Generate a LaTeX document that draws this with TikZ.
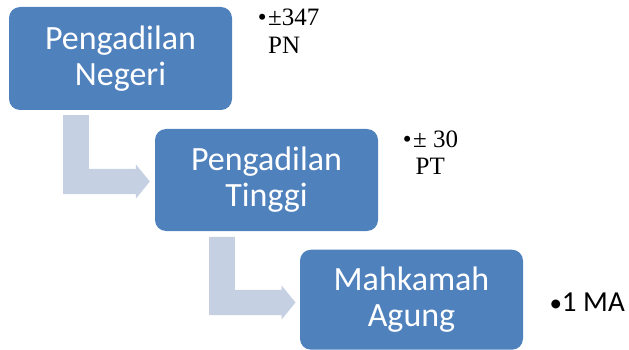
\documentclass[tikz,border=0pt]{standalone}
\usepackage{fontspec}
\setmainfont{Liberation Serif}
\newfontfamily\calfont{Carlito}
\usetikzlibrary{calc}
\definecolor{boxblue}{RGB}{79,129,189}
\definecolor{arrowblue}{RGB}{197,208,227}
\tikzset{
  levelbox/.style={draw=none, fill=boxblue, rounded corners=11pt, text=white,
    minimum width=223pt, inner sep=0pt, align=center,
    font=\calfont\fontsize{34}{36}\selectfont},
  bentarrow/.style={fill=arrowblue, draw=none},
  countlabel/.style={anchor=base west, inner sep=0pt, align=left, text=black,
    font=\fontsize{25}{28}\selectfont},
  countlabelsans/.style={anchor=base east, inner sep=0pt, align=left, text=black,
    font=\calfont\fontsize{29}{34}\selectfont}
}
\begin{document}
\begin{tikzpicture}[x=1pt,y=-1pt]
\useasboundingbox (0,0) rectangle (629,350);
% boxes
\node[levelbox, minimum height=103pt] (pn) at (120.5,58.5) {Pengadilan\\Negeri};
\node[levelbox, minimum height=102pt] (pt) at (266.5,180) {Pengadilan\\Tinggi};
\node[levelbox, minimum height=100pt] (ma) at (411.5,299.7) {Mahkamah\\Agung};
% bent arrows
\coordinate (a1) at ($(pn.south west)+(54.3,5)$);
\coordinate (t1) at ($(pt.west)+(-5,1.5)$);
\coordinate (a2) at ($(pt.south west)+(54.3,5.7)$);
\coordinate (t2) at ($(ma.west)+(-4.3,2.8)$);
\foreach \a/\t in {a1/t1,a2/t2}{
\fill[bentarrow] let \p1=(\a), \p2=(\t) in
  (\x1,\y1) -- (\x1+25.7pt,\y1) -- (\x1+25.7pt,\y2+12.7pt) -- (\x2-14pt,\y2+12.7pt)
  -- (\x2-14pt,\y2+17.2pt) -- (\x2,\y2) -- (\x2-14pt,\y2-17.2pt) -- (\x2-14pt,\y2-12.7pt)
  -- (\x1,\y2-12.7pt) -- cycle;
}
% counts
\node[countlabel] (cpn) at (268,53.3) {\llap{•\hspace{1.5pt}}±347\\PN};
\node[countlabel] (cpt) at (413,175) {\llap{•\hspace{1.5pt}}± 30\\\hspace{2.5pt}PT};
\node[countlabelsans] (cma) at (625,311.7) {{\fontsize{25}{30}\selectfont•}1 MA};
\end{tikzpicture}
\end{document}
